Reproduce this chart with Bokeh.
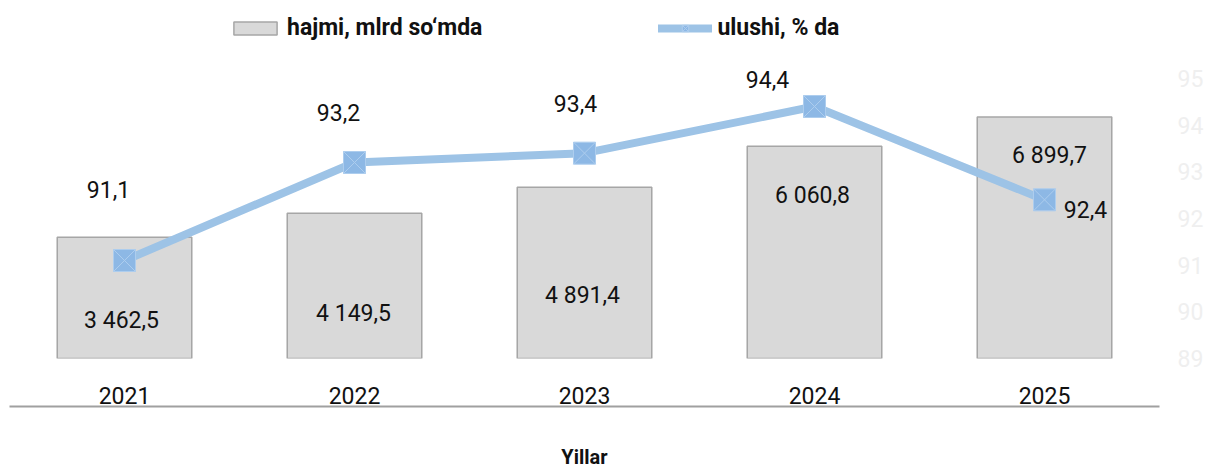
from bokeh.plotting import figure
from bokeh.models import (ColumnDataSource, Range1d, LinearAxis, CategoricalAxis,
                          Legend, LegendItem, FactorRange, FixedTicker)
from bokeh.embed import file_html
from bokeh.resources import INLINE
from bokeh.core.properties import value

# ---- data ----
years = ["2021", "2022", "2023", "2024", "2025"]
volume = [3462.5, 4149.5, 4891.4, 6060.8, 6899.7]          # hajmi, mlrd so'mda
share = [91.1, 93.2, 93.4, 94.4, 92.4]                      # ulushi, % da
volume_labels = ["3 462,5", "4 149,5", "4 891,4", "6 060,8", "6 899,7"]
share_labels = ["91,1", "93,2", "93,4", "94,4", "92,4"]
right_ticks = [89, 90, 91, 92, 93, 94, 95]

# label placement (screen px, y positive = down)
vol_dx = [-3, -1, -2, -2, 5]
vol_dy = [83, 100, 108, 49, 38]
sh_dx = [-16, -16, -9, -47, 41]
sh_dy = [-71, -50, -50, -27, 10]

FONT = "Roboto"
BAR_FILL = "#D9D9D9"
BAR_LINE = "#A6A6A6"
LINE_COL = "#9DC3E6"

src = ColumnDataSource(dict(year=years, volume=volume, share=share,
                            vlab=volume_labels, slab=share_labels,
                            vdx=vol_dx, vdy=vol_dy, sdx=sh_dx, sdy=sh_dy))

p = figure(x_range=FactorRange(*years, range_padding=0),
           y_range=Range1d(0, 10000),
           frame_width=1150, frame_height=350,
           y_axis_location=None,
           output_backend="svg", toolbar_location=None,
           min_border_left=9, min_border_top=8, min_border_right=0, min_border_bottom=0)
p.outline_line_color = None
p.xgrid.visible = False
p.ygrid.visible = False
p.background_fill_color = "white"
p.border_fill_color = "white"

p.extra_y_ranges = {"pct": Range1d(89, 96.5)}

# bars
bars = p.vbar(x="year", top="volume", width=0.585, source=src,
              fill_color=BAR_FILL, line_color=BAR_LINE, line_width=1.5)

# line + markers
ln = p.line(x="year", y="share", source=src, y_range_name="pct",
            line_color=LINE_COL, line_width=8, line_join="round", line_cap="round")
mk = p.scatter(x="year", y="share", source=src, y_range_name="pct",
               marker="square_x", size=22, fill_color="#8DB8E5",
               line_color="#ADCDEE", line_width=1)

# data labels
p.text(x="year", y="volume", text="vlab", source=src,
       x_offset="vdx", y_offset="vdy",
       text_font=value(FONT), text_font_size=value("23px"), text_color="#111111",
       text_align="center", text_baseline="middle")
p.text(x="year", y="share", text="slab", source=src, y_range_name="pct",
       x_offset="sdx", y_offset="sdy",
       text_font=value(FONT), text_font_size=value("23px"), text_color="#111111",
       text_align="center", text_baseline="middle")

# x axis: labels only
xa = p.xaxis[0]
xa.axis_line_color = None
xa.major_tick_line_color = None
xa.minor_tick_line_color = None
xa.major_label_standoff = 22
xa.major_label_text_font = FONT
xa.major_label_text_font_size = "23px"
xa.major_label_text_color = "#111111"

# second axis below: the base line + title (no ticks)
xa2 = CategoricalAxis(ticker=FixedTicker(ticks=[]))
xa2.axis_line_color = "#A0A0A0"
xa2.axis_line_width = 2
xa2.major_tick_line_color = None
xa2.minor_tick_line_color = None
xa2.major_label_standoff = 0
xa2.axis_label = "Yillar"
xa2.axis_label_text_font = FONT
xa2.axis_label_text_font_style = "bold"
xa2.axis_label_text_font_size = "20px"
xa2.axis_label_text_color = "#111111"
xa2.axis_label_standoff = 38
p.add_layout(xa2, "below")

# right axis: very faint labels
ra = LinearAxis(y_range_name="pct", ticker=FixedTicker(ticks=right_ticks))
ra.axis_line_color = None
ra.major_tick_line_color = None
ra.minor_tick_line_color = None
ra.major_label_standoff = 12
ra.major_label_text_font = FONT
ra.major_label_text_font_size = "23px"
ra.major_label_text_color = "#EFEFEF"
p.add_layout(ra, "right")

legend = Legend(items=[LegendItem(label="hajmi, mlrd so‘mda", renderers=[bars]),
                       LegendItem(label="ulushi, % da", renderers=[ln, mk])],
                orientation="horizontal", location=(219, 317),
                glyph_width=54, glyph_height=16, label_standoff=5, spacing=176,
                padding=0, margin=0, border_line_color=None, background_fill_alpha=0,
                label_text_font=FONT, label_text_font_style="bold",
                label_text_font_size="23px", label_text_color="#111111")
p.add_layout(legend)

open("out.html", "w").write(file_html(p, INLINE))
